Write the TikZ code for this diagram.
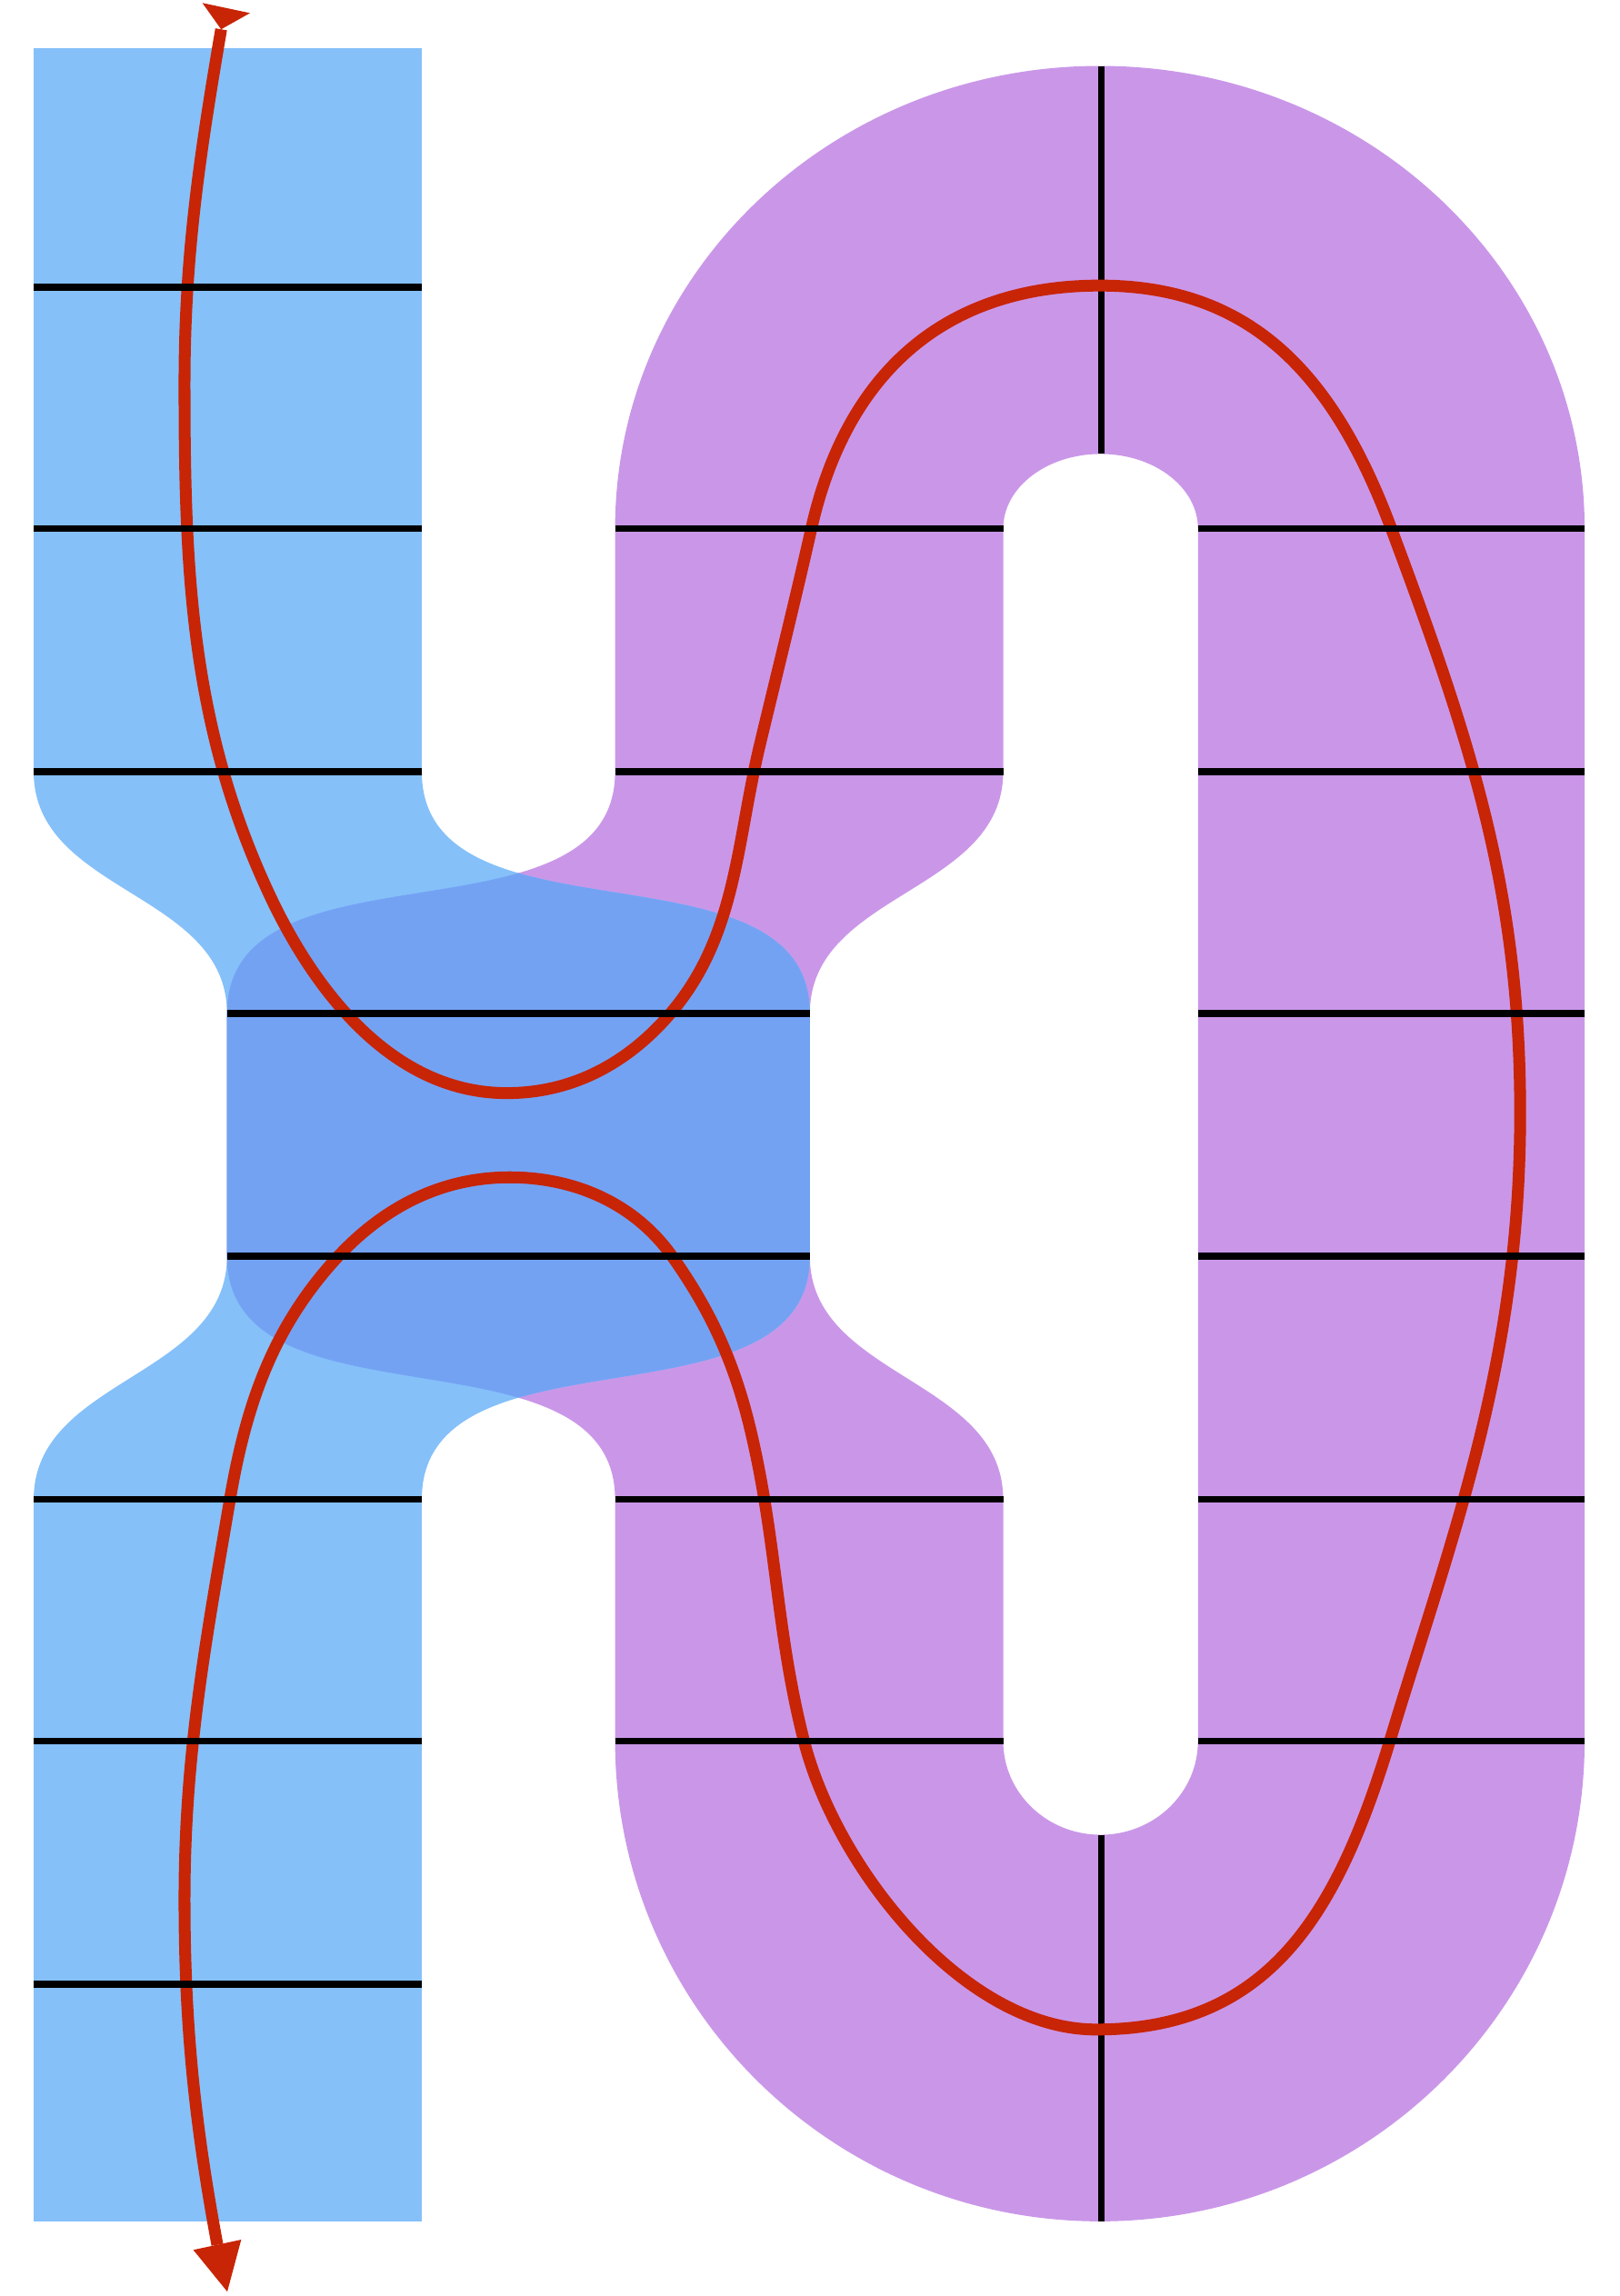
\documentclass[tikz,border=0pt]{standalone}
\definecolor{lblue}{RGB}{133,192,249}
\definecolor{lpurple}{RGB}{202,151,232}
\definecolor{dblue}{RGB}{116,162,243}
\definecolor{cred}{RGB}{200,36,6}
\begin{document}
\begin{tikzpicture}[x=0.01cm,y=-0.01cm,
  gridline/.style={line width=1.33pt, black},
  redcurve/.style={line width=2.3pt, cred, line join=round},
  redtip/.style={fill=cred, draw=none}]
\useasboundingbox (0,0) rectangle (1106,1568);
\def\bluepath{(23,33) -- (288,33) -- (288,527) .. controls (288,649.5) and (553,569.5) .. (553,692) -- (553,858) .. controls (553,980.5) and (288,901.5) .. (288,1024) -- (288,1517) -- (23,1517) -- (23,1024) .. controls (23,941) and (155,941) .. (155,858) -- (155,692) .. controls (155,609) and (23,610) .. (23,527) -- cycle}
\def\purpleouter{(420,361) arc[start angle=180, end angle=360, x radius=331, y radius=316] -- (1082,1189) arc[start angle=0, end angle=180, x radius=331, y radius=328] -- (420,1024) .. controls (420,901.5) and (155,980.5) .. (155,858) -- (155,692) .. controls (155,569.5) and (420,649.5) .. (420,527) -- cycle}
\def\purplehole{(685,361) arc[start angle=180, end angle=360, x radius=66.5, y radius=51] -- (818,1189) arc[start angle=0, end angle=180, x radius=66.5, y radius=64] -- (685,1024) .. controls (685,941) and (553,941) .. (553,858) -- (553,692) .. controls (553,609) and (685,610) .. (685,527) -- cycle}
% purple band
\fill[lpurple, even odd rule] \purpleouter \purplehole;
% blue band
\fill[lblue] \bluepath;
% overlap
\begin{scope}
  \clip \bluepath;
  \fill[dblue] \purpleouter;
\end{scope}
% vertical lines (under the red curve)
\draw[gridline] (752,45) -- (752,310);
\draw[gridline] (752,1253) -- (752,1517);
% red curve
\coordinate (rstart) at (151,20);
\coordinate (rend) at (148.4,1533);
\draw[redcurve] (rstart) .. controls (136.3,106.4) and (126,174.4) .. (126,262)
 .. controls (126,389.4) and (130,495.6) .. (184,611)
 .. controls (216.2,679.9) and (270,746.5) .. (346,746.5)
 .. controls (390.4,746.5) and (427.9,726.5) .. (457,693)
 .. controls (503,640) and (502.6,576.2) .. (519,508)
 .. controls (531.7,455.1) and (543,409.75) .. (554,361)
 .. controls (578.2,253.75) and (646,195) .. (751,195)
 .. controls (856,195) and (911.5,258) .. (950,361)
 .. controls (1006,510.9) and (1038,610) .. (1038,760)
 .. controls (1038,930) and (992.6,1045.4) .. (949,1189)
 .. controls (914,1303.8) and (868.5,1386) .. (748.5,1386)
 .. controls (658.5,1386) and (571.3,1276.2) .. (549,1189)
 .. controls (530.2,1115.4) and (530.5,1055) .. (513.5,981)
 .. controls (502.7,933.9) and (487,897.5) .. (459,858)
 .. controls (433.3,821.8) and (392.4,804) .. (348,804)
 .. controls (300.9,804) and (261.3,824.8) .. (229.5,859.5)
 .. controls (185.8,907.2) and (167.9,960.2) .. (157,1024)
 .. controls (140.4,1121.5) and (126,1198.1) .. (126,1297)
 .. controls (126,1382.3) and (132.8,1449.2) .. (rend);
% arrowheads
\fill[redtip] (138.2,2) -- (170.7,8.9) -- (rstart) -- cycle;
\fill[redtip] (132,1536.5) -- (164.7,1529.5) -- (155.2,1565) -- cycle;
% horizontal lines (over the red curve)
\foreach \yy in {196,361,527,1024,1189,1355}
  \draw[gridline] (23,\yy) -- (288,\yy);
\foreach \yy in {692,858}
  \draw[gridline] (155,\yy) -- (553,\yy);
\foreach \yy in {361,527,1024,1189}
  \draw[gridline] (420,\yy) -- (685,\yy);
\foreach \yy in {361,527,692,858,1024,1189}
  \draw[gridline] (818,\yy) -- (1082,\yy);
\end{tikzpicture}
\end{document}
